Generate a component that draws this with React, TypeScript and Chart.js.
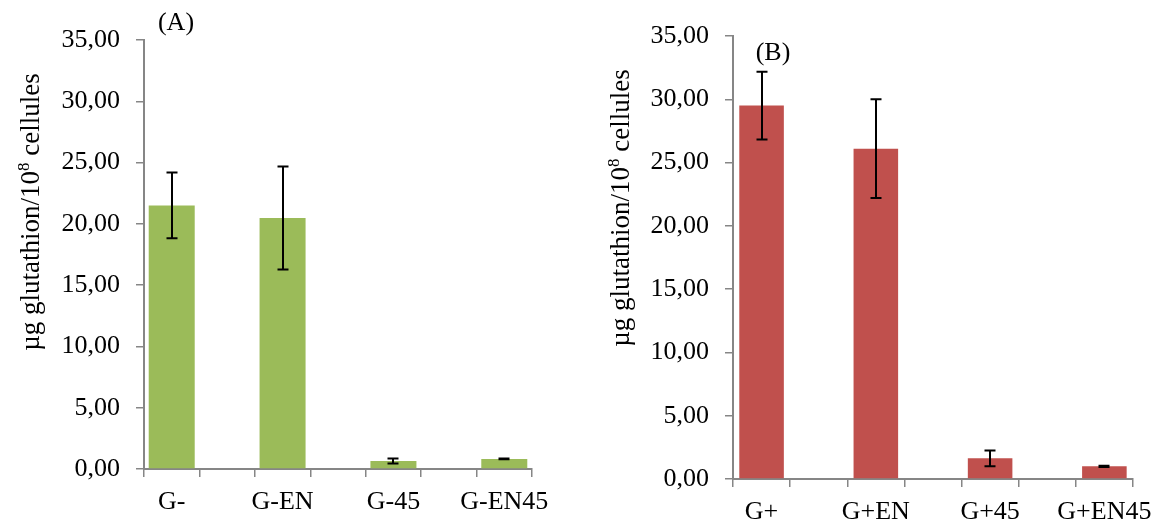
import React, { useEffect, useRef } from "react";
import { Chart, registerables } from "chart.js";

Chart.register(...registerables);

const categoriesA = ["G-", "G-EN", "G-45", "G-EN45"];
const valuesA = [21.5, 20.47, 0.65, 0.82];
const errorsA = [2.68, 4.2, 0.21, 0.03];

const categoriesB = ["G+", "G+EN", "G+45", "G+EN45"];
const valuesB = [29.5, 26.1, 1.63, 1.0];
const errorsB = [2.67, 3.9, 0.63, 0.05];

const yMin = 0;
const yMax = 35;
const yStep = 5;

const yTitle = "µg glutathion/10";
const yTitleSup = "8";
const yTitleEnd = " cellules";

const FONT = "'Liberation Serif', 'Times New Roman', serif";

function spaced<T>(arr: T[], blank: T): T[] {
  const out: T[] = [];
  arr.forEach((v, i) => {
    out.push(v);
    if (i < arr.length - 1) out.push(blank);
  });
  return out;
}

const errorBarPlugin = {
  id: "errorBars",
  afterDatasetsDraw(chart: any) {
    const ctx = chart.ctx;
    const x = chart.scales.x;
    const y = chart.scales.y;
    chart.data.datasets.forEach((ds: any) => {
      const errs: (number | null)[] = ds.errors || [];
      ds.data.forEach((v: number | null, i: number) => {
        const e = errs[i];
        if (v == null || e == null) return;
        const px = Math.round(x.getPixelForValue(i));
        const top = y.getPixelForValue(v + e);
        const bot = y.getPixelForValue(v - e);
        ctx.save();
        ctx.strokeStyle = "#000";
        ctx.lineWidth = 2;
        ctx.beginPath();
        ctx.moveTo(px, top);
        ctx.lineTo(px, bot);
        ctx.moveTo(px - 5.5, top);
        ctx.lineTo(px + 5.5, top);
        ctx.moveTo(px - 5.5, bot);
        ctx.lineTo(px + 5.5, bot);
        ctx.stroke();
        ctx.restore();
      });
    });
  },
};

const textPlugin = {
  id: "panelTexts",
  afterDraw(chart: any, _args: any, opts: any) {
    const ctx = chart.ctx;
    ctx.save();
    ctx.fillStyle = "#000";
    ctx.font = `${opts.labelSize}px ${FONT}`;
    ctx.textAlign = "center";
    ctx.textBaseline = "middle";
    ctx.fillText(opts.label, opts.labelX, opts.labelY);
    ctx.translate(opts.titleX, opts.titleY);
    ctx.rotate(-Math.PI / 2);
    const size = opts.titleSize;
    const supSize = Math.round(size * 0.62);
    ctx.font = `${size}px ${FONT}`;
    const w1 = ctx.measureText(yTitle).width;
    const w3 = ctx.measureText(yTitleEnd).width;
    ctx.font = `${supSize}px ${FONT}`;
    const w2 = ctx.measureText(yTitleSup).width;
    const total = w1 + w2 + w3;
    let cx = -total / 2;
    ctx.textAlign = "left";
    ctx.textBaseline = "alphabetic";
    const base = size * 0.33;
    ctx.font = `${size}px ${FONT}`;
    ctx.fillText(yTitle, cx, base);
    cx += w1;
    ctx.font = `${supSize}px ${FONT}`;
    ctx.fillText(yTitleSup, cx, base - size * 0.38);
    cx += w2;
    ctx.font = `${size}px ${FONT}`;
    ctx.fillText(yTitleEnd, cx, base);
    ctx.restore();
  },
};

type PanelProps = {
  categories: string[];
  values: number[];
  errors: number[];
  color: string;
  barPct: number;
  width: number;
  height: number;
  yAxisWidth: number;
  padRight: number;
  padTop: number;
  xAxisHeight: number;
  xLabelPad: number;
  label: string;
  labelX: number;
  labelY: number;
  titleX: number;
  titleY: number;
};

function Panel(p: PanelProps) {
  const ref = useRef<HTMLCanvasElement | null>(null);
  useEffect(() => {
    if (!ref.current) return;
    const labels = spaced(p.categories, "");
    const data = spaced<number | null>(p.values, null);
    const errs = spaced<number | null>(p.errors, null);
    const tickFont = { family: FONT, size: 26 };
    const chart = new Chart(ref.current, {
      type: "bar",
      data: {
        labels,
        datasets: [
          {
            data,
            errors: errs,
            backgroundColor: p.color,
            borderWidth: 0,
            categoryPercentage: 1,
            barPercentage: p.barPct,
          } as any,
        ],
      },
      options: {
        animation: false,
        responsive: false,
        devicePixelRatio: 1,
        layout: { padding: { left: 0, right: p.padRight, top: p.padTop, bottom: 0 } },
        plugins: {
          legend: { display: false },
          tooltip: { enabled: false },
          panelTexts: {
            label: p.label,
            labelX: p.labelX,
            labelY: p.labelY,
            labelSize: 26,
            titleX: p.titleX,
            titleY: p.titleY,
            titleSize: 27,
          },
        } as any,
        scales: {
          x: {
            grid: {
              display: true,
              drawOnChartArea: false,
              drawTicks: true,
              tickLength: 8,
              color: "#868686",
              lineWidth: 1.5,
              offset: true,
            },
            border: { display: true, color: "#868686", width: 2 },
            ticks: {
              autoSkip: false,
              maxRotation: 0,
              minRotation: 0,
              color: "#000",
              font: tickFont,
              padding: p.xLabelPad,
            },
            afterFit: (s: any) => {
              s.height = p.xAxisHeight;
            },
          },
          y: {
            min: yMin,
            max: yMax,
            grid: {
              display: true,
              drawOnChartArea: false,
              drawTicks: true,
              tickLength: 8,
              color: "#868686",
              lineWidth: 1.5,
            },
            border: { display: true, color: "#868686", width: 2 },
            ticks: {
              stepSize: yStep,
              color: "#000",
              font: tickFont,
              padding: 16,
              callback: (v: any) => Number(v).toFixed(2).replace(".", ","),
            },
            afterFit: (s: any) => {
              s.width = p.yAxisWidth;
            },
          },
        },
      },
      plugins: [errorBarPlugin, textPlugin],
    });
    return () => chart.destroy();
  }, []);
  return <canvas ref={ref} width={p.width} height={p.height} style={{ display: "block" }} />;
}

export default function App() {
  return (
    <div style={{ position: "fixed", left: 0, top: 0, width: 1163, height: 520, background: "#fff" }}>
      <div style={{ position: "absolute", left: 0, top: 0 }}>
        <Panel
          categories={categoriesA}
          values={valuesA}
          errors={errorsA}
          color="#9BBB59"
          barPct={0.83}
          width={580}
          height={520}
          yAxisWidth={144}
          padRight={48}
          padTop={40}
          xAxisHeight={51}
          xLabelPad={10}
          label="(A)"
          labelX={176}
          labelY={23}
          titleX={30}
          titleY={212}
        />
      </div>
      <div style={{ position: "absolute", left: 580, top: 0 }}>
        <Panel
          categories={categoriesB}
          values={valuesB}
          errors={errorsB}
          color="#C0504D"
          barPct={0.78}
          width={583}
          height={520}
          yAxisWidth={153}
          padRight={22}
          padTop={36}
          xAxisHeight={41}
          xLabelPad={10}
          label="(B)"
          labelX={193}
          labelY={53}
          titleX={40}
          titleY={208}
        />
      </div>
    </div>
  );
}
